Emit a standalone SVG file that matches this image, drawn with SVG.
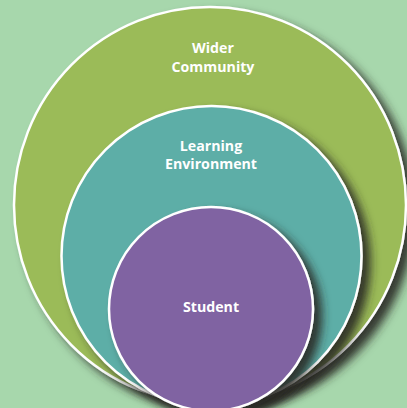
<svg xmlns="http://www.w3.org/2000/svg" width="407" height="408" viewBox="0 0 407 408">
<defs>
<filter id="sh" x="-20%" y="-20%" width="140%" height="140%">
<feDropShadow dx="8" dy="7" stdDeviation="5" flood-color="#252c24" flood-opacity="0.9"/>
</filter>
<style>
.c{stroke:#ffffff;stroke-width:2.5;filter:url(#sh)}
.t{font-family:"Open Sans","Liberation Sans",sans-serif;font-weight:bold;font-size:14.2px;fill:#ffffff;text-anchor:middle}
</style>
</defs>
<rect width="407" height="408" fill="#a7d7ac"/>
<g id="wider-community">
<ellipse class="c" cx="210" cy="205" rx="196" ry="198" fill="#9bbb59"/>
<text class="t" x="213" y="53">Wider</text>
<text class="t" x="213" y="72">Community</text>
</g>
<g id="learning-environment">
<circle class="c" cx="211.5" cy="256" r="150" fill="#5daea7"/>
<text class="t" x="211" y="151">Learning</text>
<text class="t" x="211" y="169">Environment</text>
</g>
<g id="student">
<circle class="c" cx="211" cy="309" r="102" fill="#8064a2"/>
<text class="t" x="211" y="312">Student</text>
</g>
<g id="connectors"/>
</svg>
